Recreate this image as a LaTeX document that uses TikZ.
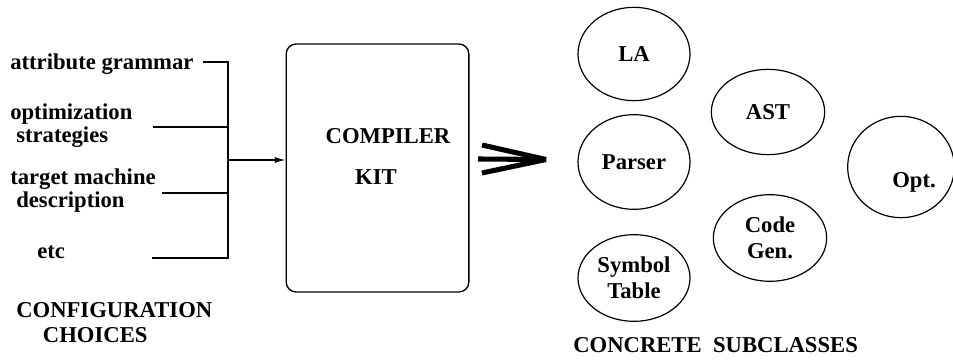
\documentclass[tikz,border=0pt]{standalone}
\usepackage{fontspec}
\setmainfont{Liberation Serif}
\usetikzlibrary{shapes.geometric,arrows.meta}
\begin{document}
\begin{tikzpicture}[x=0.75pt,y=-0.75pt,
  lbl/.style={font=\fontsize{17}{17.5}\selectfont\bfseries,inner sep=0pt,align=left},
  cls/.style={draw,ellipse,line width=0.9pt,inner sep=0pt,align=center,
    font=\fontsize{17}{19.5}\selectfont\bfseries},
  wire/.style={line width=0.9pt},
  fat/.style={line width=3.8pt}]
\useasboundingbox (0,0) rectangle (953,363);
% left labels (base anchor = baseline of the last line)
\node[lbl,anchor=base west] (ag) at (10,70) {attribute grammar};
\node[lbl,anchor=base west] (os) at (10,143) {optimization\\\hspace*{4.5pt}strategies};
\node[lbl,anchor=base west] (tm) at (10,208) {target machine\\\hspace*{4.5pt}description};
\node[lbl,anchor=base west] (etc) at (37,259) {etc};
\node[lbl,anchor=base west] (cc) at (16,342) {CONFIGURATION\\[1.2pt]\hspace*{20pt}CHOICES};
% stem
\coordinate (s1) at (203,62);
\coordinate (s2) at (153,127);
\coordinate (s3) at (162,193);
\coordinate (s4) at (152,258);
\coordinate (j1) at (228,62);
\coordinate (j2) at (228,127);
\coordinate (j3) at (228,193);
\coordinate (j4) at (228,258);
\coordinate (jm) at (228,160);
\draw[wire] (s1) -- (j1) -- (j4) -- (s4);
\draw[wire] (s2) -- (j2);
\draw[wire] (s3) -- (j3);
% box
\node[draw,line width=1pt,rounded corners=7.5pt,minimum width=137pt,minimum height=186pt,inner sep=0pt] (kit) at (377.5,168) {};
\draw[wire,-{Latex[length=8pt,width=4.5pt]}] (jm) -- (kit.west |- jm);
\node[lbl,anchor=base] (comp) at (388,144) {COMPILER};
\node[lbl,anchor=base] (kt) at (376,185) {KIT};
% big arrow
\coordinate (b1) at (482,145);
\coordinate (b2) at (478,159);
\coordinate (b3) at (482,173);
\coordinate (bt) at (546,159.5);
\draw[fat] (b1) -- (bt);
\draw[fat] (b2) -- (bt);
\draw[fat] (b3) -- (bt);
% classes
\node[cls,minimum width=84pt,minimum height=70pt] (la) at (634,54) {LA};
\node[cls,minimum width=84pt,minimum height=71pt] (parser) at (634,162) {Parser};
\node[cls,minimum width=84pt,minimum height=65pt] (sym) at (634,278) {Symbol\\Table};
\node[cls,minimum width=85pt,minimum height=64pt] (ast) at (768,112) {AST};
\node[cls,minimum width=85pt,minimum height=65pt] (cg) at (770,238) {Code\\Gen.};
\node[cls,minimum width=80pt,minimum height=76pt] (opt) at (901,167) {};
\node[lbl] (optt) at (914,182) {Opt.};
\node[lbl,anchor=base west] (cs) at (573,352) {CONCRETE\ \ SUBCLASSES};
\end{tikzpicture}
\end{document}
